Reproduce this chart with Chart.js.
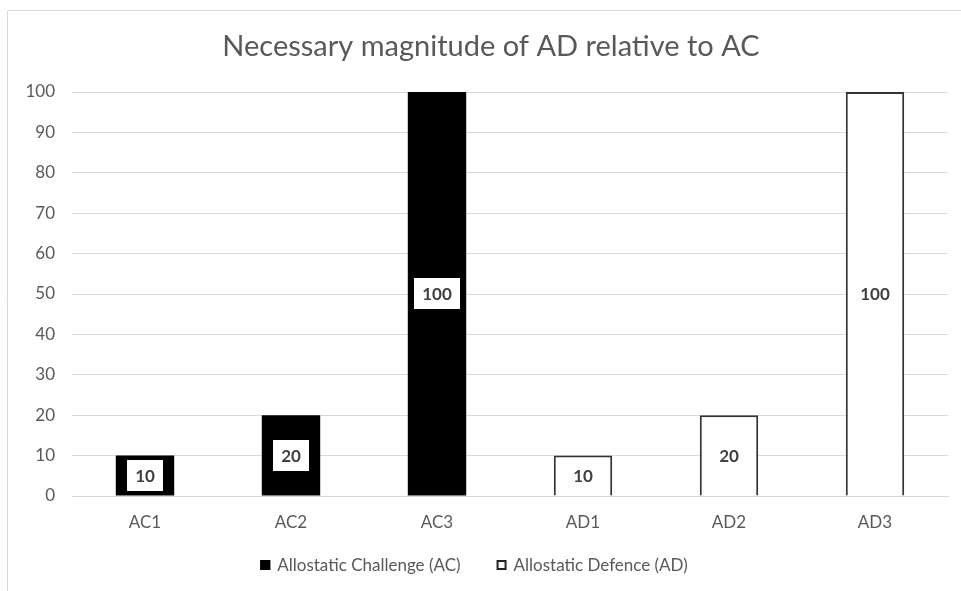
<!DOCTYPE html>
<html>
<head>
<meta charset="utf-8">
<script src="https://cdn.jsdelivr.net/npm/chart.js@4/dist/chart.umd.min.js"></script>
<style>
html,body{margin:0;padding:0;background:#fff;}
#wrap{position:relative;width:961px;height:591px;}
</style>
</head>
<body>
<div id="wrap"><canvas id="c" width="961" height="591"></canvas></div>
<script>
const titleText = "Necessary magnitude of AD relative to AC";
const categories = ["AC1", "AC2", "AC3", "AD1", "AD2", "AD3"];
const challengeLabel = "Allostatic Challenge (AC)";
const defenceLabel = "Allostatic Defence (AD)";
const challengeValues = [10, 20, 100, null, null, null];
const defenceValues = [null, null, null, 10, 20, 100];
const yTicks = [0, 10, 20, 30, 40, 50, 60, 70, 80, 90, 100];

const FONT = "Lato";
const TEXT = "#595959";
const GRID = "#d9d9d9";

const frameAndText = {
  id: "frameAndText",
  beforeDraw(chart) {
    const ctx = chart.ctx;
    ctx.save();
    ctx.strokeStyle = GRID;
    ctx.lineWidth = 1;
    ctx.beginPath();
    ctx.moveTo(7.5, 600);
    ctx.lineTo(7.5, 10.5);
    ctx.lineTo(970, 10.5);
    ctx.stroke();
    ctx.restore();
  },
  afterDraw(chart) {
    const ctx = chart.ctx;
    ctx.save();
    // title
    ctx.fillStyle = TEXT;
    ctx.font = "29px " + FONT;
    ctx.textAlign = "center";
    ctx.textBaseline = "middle";
    ctx.fillText(titleText, 491, 47);
    // legend
    ctx.font = "17px " + FONT;
    ctx.textAlign = "left";
    const items = chart.data.datasets.map(d => ({label: d.label, fill: d.backgroundColor, stroke: d.legendStroke}));
    const box = 10, gapText = 7, gapItem = 36;
    let total = 0;
    items.forEach((it, i) => { it.w = ctx.measureText(it.label).width; total += box + gapText + it.w + (i ? gapItem : 0); });
    let x = 474 - total / 2;
    const y = 565;
    items.forEach((it, i) => {
      if (i) x += gapItem;
      ctx.fillStyle = it.fill;
      ctx.fillRect(x, y - box / 2, box, box);
      ctx.strokeStyle = it.stroke;
      ctx.lineWidth = 2;
      ctx.strokeRect(x + 1, y - box / 2 + 1, box - 2, box - 2);
      x += box + gapText;
      ctx.fillStyle = TEXT;
      ctx.fillText(it.label, x, y + 1);
      x += it.w;
    });
    ctx.restore();
  },
  afterDatasetsDraw(chart) {
    const ctx = chart.ctx;
    ctx.save();
    ctx.font = "bold 17px " + FONT;
    ctx.textAlign = "center";
    ctx.textBaseline = "middle";
    chart.data.datasets.forEach((ds, di) => {
      const meta = chart.getDatasetMeta(di);
      meta.data.forEach((el, i) => {
        const v = ds.data[i];
        if (v === null || v === undefined) return;
        const cx = el.x, cy = (el.y + el.base) / 2;
        const txt = String(v);
        const tw = ctx.measureText(txt).width;
        if (ds.labelBox) {
          ctx.fillStyle = "#ffffff";
          ctx.fillRect(Math.round(cx - tw / 2 - 8), Math.round(cy - 15.5), Math.round(tw + 16), 31);
        }
        ctx.fillStyle = "#404040";
        ctx.fillText(txt, cx, cy + 1);
      });
    });
    ctx.restore();
  }
};

new Chart(document.getElementById("c"), {
  type: "bar",
  data: {
    labels: categories,
    datasets: [
      {label: challengeLabel, data: challengeValues, backgroundColor: "#000000", borderColor: "#000000", borderWidth: 0, labelBox: true, legendStroke: "#000000"},
      {label: defenceLabel, data: defenceValues, backgroundColor: "#ffffff", borderColor: "#333333", borderWidth: 2, labelBox: false, legendStroke: "#222222"}
    ]
  },
  options: {
    responsive: false,
    animation: false,
    devicePixelRatio: 1,
    layout: {padding: {left: 0, right: 13, top: 92, bottom: 55}},
    datasets: {bar: {barPercentage: 0.4, categoryPercentage: 1}},
    plugins: {legend: {display: false}, title: {display: false}, tooltip: {enabled: false}},
    scales: {
      x: {
        stacked: true,
        grid: {display: false, drawTicks: false},
        border: {display: true, color: GRID, width: 1},
        ticks: {color: TEXT, font: {family: FONT, size: 17}, padding: 16},
        afterFit(s) { s.height = 40; }
      },
      y: {
        stacked: true,
        min: 0, max: 100,
        afterBuildTicks(s) { s.ticks = yTicks.map(v => ({value: v})); },
        grid: {color: GRID, lineWidth: 1, drawTicks: false},
        border: {display: false},
        ticks: {color: TEXT, font: {family: FONT, size: 17}, padding: 17},
        afterFit(s) { s.width = 72; }
      }
    }
  },
  plugins: [frameAndText]
});
</script>
</body>
</html>
